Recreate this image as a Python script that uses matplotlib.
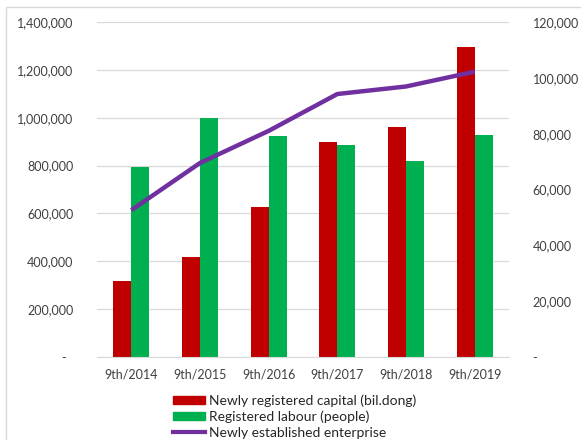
import matplotlib
matplotlib.use("Agg")
import matplotlib.pyplot as plt
import numpy as np
from matplotlib.patches import Rectangle
from matplotlib.lines import Line2D
from matplotlib.ticker import FuncFormatter

years = ["9th/2014", "9th/2015", "9th/2016", "9th/2017", "9th/2018", "9th/2019"]
capital = [317000, 419000, 628000, 899000, 960000, 1294000]
labour = [793000, 998000, 925000, 885000, 818000, 928000]
enterprises = [52600, 69500, 81000, 94200, 96900, 102200]

RED = "#C00000"
GREEN = "#00B050"
PURPLE = "#7030A0"
TEXT = "#404040"

plt.rcParams["font.family"] = ["Lato", "DejaVu Sans"]

W, H = 581, 440
fig = plt.figure(figsize=(W / 100, H / 100), dpi=100)

# plot area in pixels: x 97..509, y 22..357
x0, x1, y0, y1 = 97, 509, 22, 357
ax = fig.add_axes([x0 / W, 1 - y1 / H, (x1 - x0) / W, (y1 - y0) / H])

x = np.arange(len(years))
bw = 0.26
ax.bar(x - bw / 2, capital, bw, color=RED, zorder=2)
ax.bar(x + bw / 2, labour, bw, color=GREEN, zorder=2)
ax.set_xlim(-0.5, len(years) - 0.5)
ax.set_ylim(0, 1400000)
ax.set_yticks(np.arange(0, 1400001, 200000))


def fmt(v, _pos):
    return "-  " if v == 0 else f"{int(v):,}"


ax.yaxis.set_major_formatter(FuncFormatter(fmt))
ax.set_xticks(x)
ax.set_xticklabels(years)
ax.grid(axis="y", color="#d9d9d9", linewidth=0.9, zorder=0)
ax.set_axisbelow(True)
for s in ["top", "left", "right"]:
    ax.spines[s].set_visible(False)
ax.spines["bottom"].set_color("#d9d9d9")
ax.tick_params(axis="both", length=0, colors=TEXT, labelsize=9)
ax.tick_params(axis="y", pad=17)
ax.tick_params(axis="x", pad=8)

ax2 = ax.twinx()
ax2.plot(x, enterprises, color=PURPLE, linewidth=3.2, solid_capstyle="butt", zorder=3)
ax2.set_ylim(0, 120000)
ax2.set_yticks(np.arange(0, 120001, 20000))
ax2.yaxis.set_major_formatter(FuncFormatter(lambda v, p: "-" if v == 0 else f"{int(v):,}"))
for s in ["top", "left", "right", "bottom"]:
    ax2.spines[s].set_visible(False)
ax2.tick_params(axis="y", length=0, colors=TEXT, labelsize=9, pad=17)

handles = [
    Rectangle((0, 0), 1, 1, color=RED),
    Rectangle((0, 0), 1, 1, color=GREEN),
    Line2D([0], [0], color=PURPLE, linewidth=3),
]
labels = ["Newly registered capital (bil.dong)", "Registered labour (people)",
          "Newly established enterprise"]
leg = fig.legend(handles, labels, loc="upper left", bbox_to_anchor=(173 / W, 1 - 394 / H),
                 frameon=False, fontsize=10, labelspacing=0.28, handlelength=2.3,
                 handleheight=0.5, handletextpad=0.3, borderpad=0, borderaxespad=0)
for t in leg.get_texts():
    t.set_color("#262626")

# chart frame
fig.add_artist(Rectangle((6 / W, -0.1), 1.2, (H - 7) / H + 0.1, transform=fig.transFigure,
                         fill=False, edgecolor="#d9d9d9", linewidth=1, clip_on=False))

fig.savefig("out.png", dpi=100)
